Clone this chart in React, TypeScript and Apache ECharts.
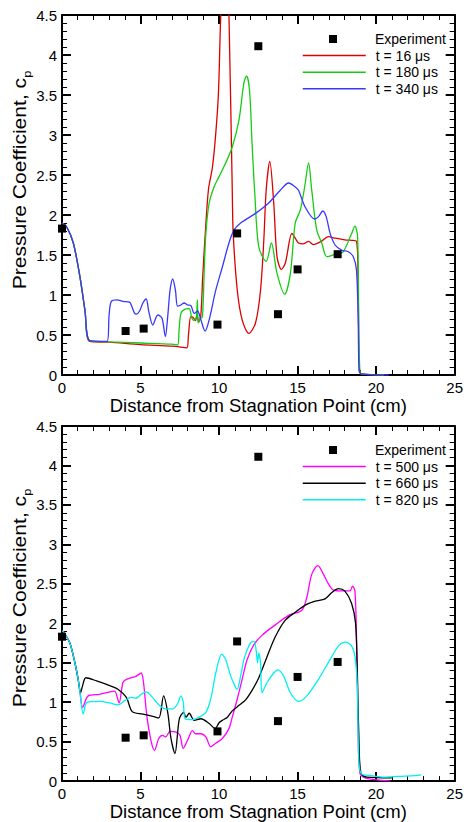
import React, { useEffect, useRef } from 'react';
import * as echarts from 'echarts';

// ---------- data (x in cm, y = Cp) ----------
const experiment: number[][] = [
  [0, 1.83], [4.05, 0.55], [5.2, 0.58], [9.9, 0.63], [11.15, 1.77],
  [12.5, 4.11], [13.75, 0.76], [15, 1.32], [17.55, 1.51],
];

const t16: number[][] = [
  [0, 1.9], [0.3, 1.85], [0.72, 1.65], [1.14, 1.23], [1.46, 0.81], [1.77, 0.42],
  [3, 0.41], [5, 0.38], [7, 0.36], [7.95, 0.34], [8.05, 0.5], [8.2, 0.73], [8.35, 0.72],
  [8.5, 0.68], [8.6, 0.75], [8.7, 0.66], [8.84, 0.75], [8.95, 1.2], [9.1, 1.7], [9.32, 2.31],
  [9.58, 2.6], [9.79, 3.02], [9.96, 3.52], [10.1, 4.44], [10.3, 5.2], [10.5, 5.2], [10.63, 4.5],
  [10.84, 2.31], [10.9, 1.77], [11.16, 1.06], [11.47, 0.69], [11.9, 0.52], [12.32, 0.65],
  [12.64, 1.06], [12.85, 1.69], [13.0, 2.31], [13.23, 2.67], [13.48, 2.15], [13.69, 1.48],
  [13.97, 1.32], [14.22, 1.4], [14.64, 1.77], [14.85, 1.71], [15.06, 1.65], [15.38, 1.64],
  [15.7, 1.67], [16.0, 1.63], [16.5, 1.67], [16.96, 1.73], [17.4, 1.71], [18.0, 1.69],
  [18.75, 1.67], [18.85, 1.2], [18.92, 0.1], [19.0, 0.02], [20.5, 0.0],
];

const t180: number[][] = [
  [0, 1.9], [0.3, 1.85], [0.72, 1.65], [1.14, 1.23], [1.46, 0.81], [1.77, 0.43],
  [3, 0.415], [5, 0.4], [7.0, 0.385], [7.36, 0.375], [7.45, 0.55], [7.57, 0.77], [7.8, 0.82],
  [8.1, 0.83], [8.25, 0.72], [8.4, 0.68], [8.55, 0.72], [8.62, 0.94], [8.67, 0.65], [8.8, 0.7],
  [8.94, 0.73], [9.05, 1.27], [9.16, 1.77], [9.37, 2.15], [9.68, 2.35], [10.0, 2.48],
  [10.42, 2.65], [10.84, 2.85], [11.27, 3.19], [11.58, 3.65], [11.75, 3.74], [11.94, 3.56],
  [12.1, 2.9], [12.28, 2.25], [12.53, 1.6], [13.0, 1.42], [13.33, 1.65], [13.69, 1.27],
  [14.18, 1.01], [14.54, 1.27], [14.85, 1.9], [15.17, 2.06], [15.45, 2.35], [15.7, 2.65],
  [15.9, 2.31], [16.22, 1.81], [16.54, 1.65], [16.86, 1.48], [17.4, 1.51], [17.9, 1.54],
  [18.44, 1.77], [18.65, 1.86], [18.82, 1.73], [18.9, 0.5], [18.97, 0.05], [19.1, 0.01], [20.5, 0.0],
];

const t340: number[][] = [
  [0, 1.9], [0.3, 1.85], [0.72, 1.65], [1.14, 1.23], [1.46, 0.81], [1.77, 0.43],
  [2.87, 0.42], [3.0, 0.75], [3.14, 0.92], [3.5, 0.94], [3.88, 0.92], [4.3, 0.91], [4.41, 0.875],
  [4.6, 0.78], [4.73, 0.76], [4.94, 0.8], [5.15, 0.9], [5.36, 0.95], [5.53, 0.79], [5.78, 0.625],
  [6.1, 0.75], [6.37, 0.71], [6.58, 0.48], [6.73, 0.73], [6.88, 1.06], [7.05, 1.2], [7.22, 1.06],
  [7.36, 0.86], [7.57, 0.875], [7.78, 0.9], [8.0, 0.875], [8.2, 0.87], [8.42, 0.77], [8.63, 0.8],
  [8.84, 0.69], [9.11, 0.55], [9.37, 0.69], [9.79, 1.06], [10.21, 1.35], [10.63, 1.65],
  [10.95, 1.81], [11.37, 1.9], [12.32, 2.02], [13.16, 2.15], [13.9, 2.31], [14.43, 2.4],
  [14.85, 2.35], [15.06, 2.31], [15.48, 2.1], [16.08, 1.95], [16.33, 1.98], [16.6, 2.05],
  [16.82, 1.98], [17.07, 1.77], [17.39, 1.625], [17.8, 1.56], [18.23, 1.54], [18.54, 1.48],
  [18.75, 1.31], [18.86, 0.65], [18.92, 0.05], [19.1, 0.01], [20.8, 0.0],
];

const t500: number[][] = [
  [0, 1.9], [0.1, 1.89], [0.5, 1.75], [0.82, 1.5], [1.03, 1.29], [1.15, 1.12], [1.31, 0.935],
  [1.67, 1.08], [2.4, 1.1], [3.04, 1.13], [3.35, 1.14], [3.63, 0.99], [3.88, 1.25], [4.1, 1.29],
  [4.73, 1.33], [5.04, 1.37], [5.19, 1.25], [5.4, 0.83], [5.68, 0.5], [5.89, 0.39], [6.16, 0.54],
  [6.41, 0.58], [6.6, 0.56], [6.88, 0.63], [7.26, 0.62], [7.51, 0.58], [7.72, 0.415], [8.0, 0.52],
  [8.31, 0.64], [8.5, 0.6], [8.84, 0.6], [9.16, 0.56], [9.47, 0.435], [9.79, 0.48], [10.21, 0.54],
  [10.63, 0.665], [10.84, 0.81], [11.16, 1.04], [11.47, 1.29], [11.79, 1.54], [12.22, 1.73],
  [12.74, 1.85], [13.58, 1.98], [14.43, 2.1], [15.27, 2.165], [15.59, 2.33], [15.9, 2.62],
  [16.29, 2.73], [16.65, 2.62], [16.96, 2.5], [17.28, 2.42], [17.8, 2.41], [18.33, 2.41],
  [18.5, 2.47], [18.65, 2.41], [18.75, 1.83], [18.86, 0.58], [18.97, 0.1], [19.28, 0.04], [20.9, 0.0],
];

const t660: number[][] = [
  [0, 1.9], [0.1, 1.89], [0.5, 1.75], [0.82, 1.5], [1.03, 1.29], [1.18, 1.12], [1.3, 1.2],
  [1.52, 1.31], [2.2, 1.27], [3.04, 1.21], [3.56, 1.165], [4.1, 1.06], [4.47, 0.88], [5.15, 0.85],
  [5.78, 0.82], [6.16, 0.8], [6.47, 1.08], [6.73, 0.87], [6.94, 0.54], [7.19, 0.35], [7.47, 0.79],
  [7.74, 0.87], [7.89, 0.81], [8.1, 0.86], [8.42, 0.77], [8.84, 0.79], [9.37, 0.73], [9.75, 0.665],
  [10.0, 0.74], [10.21, 0.77], [10.53, 0.81], [10.84, 0.89], [11.27, 0.96], [11.69, 1.03],
  [12.1, 1.15], [12.53, 1.31], [13.06, 1.58], [13.58, 1.83], [14.22, 2.04], [14.85, 2.14],
  [15.49, 2.23], [16.12, 2.28], [16.75, 2.31], [17.18, 2.39], [17.6, 2.44], [18.0, 2.41],
  [18.44, 2.25], [18.69, 2.0], [18.8, 1.41], [18.9, 0.58], [19.03, 0.1], [19.4, 0.05], [21.0, 0.04],
];

const t820: number[][] = [
  [0, 1.9], [0.1, 1.89], [0.5, 1.75], [0.82, 1.5], [1.03, 1.29], [1.15, 1.12], [1.35, 0.85],
  [1.6, 1.0], [2.4, 1.01], [3.04, 0.99], [3.56, 0.965], [3.99, 1.02], [4.41, 1.06], [4.73, 1.05],
  [5.04, 1.1], [5.36, 1.13], [5.68, 1.08], [6.1, 0.98], [6.6, 0.915], [7.04, 0.915], [7.36, 0.98],
  [7.57, 1.08], [7.72, 1.0], [7.85, 0.79], [8.31, 0.78], [8.73, 0.81], [9.16, 0.87], [9.47, 1.04],
  [9.79, 1.37], [10.17, 1.61], [10.42, 1.54], [10.74, 1.33], [11.06, 1.185], [11.16, 1.165],
  [11.37, 1.33], [11.58, 1.54], [11.79, 1.66], [12.0, 1.75], [12.22, 1.77], [12.36, 1.66],
  [12.45, 1.5], [12.53, 1.62], [12.64, 1.5], [12.74, 1.12], [13.06, 1.25], [13.48, 1.37],
  [13.75, 1.41], [14.11, 1.33], [14.54, 1.12], [15.06, 1.01], [15.59, 1.08], [16.33, 1.29],
  [17.07, 1.54], [17.6, 1.71], [18.06, 1.76], [18.44, 1.71], [18.65, 1.58], [18.8, 1.21],
  [18.9, 0.25], [19.07, 0.09], [19.7, 0.07], [20.52, 0.05], [21.4, 0.06], [22.5, 0.07], [22.87, 0.08],
];

const topLines = [
  { name: 't = 16 \u03bcs', data: t16, color: '#dd0000' },
  { name: 't = 180 \u03bcs', data: t180, color: '#14cc14' },
  { name: 't = 340 \u03bcs', data: t340, color: '#3838ff' },
];
const bottomLines = [
  { name: 't = 500 \u03bcs', data: t500, color: '#ff00ff' },
  { name: 't = 660 \u03bcs', data: t660, color: '#000000' },
  { name: 't = 820 \u03bcs', data: t820, color: '#00f0f0' },
];

const xTitle = 'Distance from Stagnation Point (cm)';
const yTitle = 'Pressure Coefficient, c';
const expName = 'Experiment';

const FONT = '"Liberation Sans", Arial, Helvetica, sans-serif';

const GRID_LEFT = 62;
const GRID_W = 395;
const GRID_H = 360;
const GRID_TOPS = [15, 426];

function xAxesFor(gridIndex: number) {
  const base: any = {
    type: 'value', gridIndex, min: 0, max: 25, interval: 5,
    axisLine: { show: true, onZero: false, lineStyle: { color: '#000', width: 2 } },
    axisTick: { show: true, inside: true, length: 9, lineStyle: { color: '#000', width: 2 } },
    minorTick: { show: true, splitNumber: 5, length: 5, lineStyle: { color: '#000', width: 1 } },
    splitLine: { show: false },
  };
  return [
    {
      ...base, position: 'bottom',
      axisLabel: { show: true, margin: 5, color: '#000', fontSize: 15, fontFamily: FONT },
      name: xTitle, nameLocation: 'middle', nameGap: 16,
      nameTextStyle: { color: '#000', fontSize: 18.5, fontFamily: FONT },
    },
    { ...base, position: 'top', axisLabel: { show: false } },
  ];
}

function yAxesFor(gridIndex: number) {
  const base: any = {
    type: 'value', gridIndex, min: 0, max: 4.5, interval: 0.5,
    axisLine: { show: true, onZero: false, lineStyle: { color: '#000', width: 2 } },
    axisTick: { show: true, inside: true, length: 9, lineStyle: { color: '#000', width: 2 } },
    minorTick: { show: true, splitNumber: 5, length: 5, lineStyle: { color: '#000', width: 1 } },
    splitLine: { show: false },
  };
  return [
    { ...base, position: 'left', axisLabel: { show: true, margin: 5, color: '#000', fontSize: 15, fontFamily: FONT } },
    { ...base, position: 'right', axisLabel: { show: false } },
  ];
}

function App() {
  const ref = useRef<HTMLDivElement>(null);
  useEffect(() => {
    if (!ref.current) return;
    const chart = echarts.init(ref.current, undefined, { renderer: 'svg' });

    const series: any[] = [];
    const groups = [topLines, bottomLines];
    groups.forEach((lines, g) => {
      lines.forEach((l) => {
        series.push({
          type: 'line', name: l.name, data: l.data,
          xAxisIndex: g * 2, yAxisIndex: g * 2,
          symbol: 'none', smooth: 0.3, clip: true,
          lineStyle: { color: l.color, width: 1.3 },
          itemStyle: { color: l.color },
          z: 2,
        });
      });
      series.push({
        type: 'scatter', name: expName, data: experiment,
        xAxisIndex: g * 2, yAxisIndex: g * 2,
        symbol: 'rect', symbolSize: 8,
        itemStyle: { color: '#000', opacity: 1 }, z: 3,
      });
    });

    const legends: any[] = [];
    GRID_TOPS.forEach((top, g) => {
      const expY = top + 24;
      legends.push({
        data: [{ name: expName, icon: 'rect' }],
        left: 329, top: expY - 7, padding: 0,
        itemWidth: 8, itemHeight: 8, selectedMode: false,
        itemStyle: { opacity: 1 },
        textStyle: { color: '#000', fontSize: 14, fontFamily: FONT, lineHeight: 14, padding: [0, 0, 0, 33] },
      });
      legends.push({
        data: groups[g].map((l) => l.name),
        orient: 'vertical', left: 302, top: expY + 16.6 - 7, padding: 0,
        itemWidth: 63, itemHeight: 14, itemGap: 2.6, selectedMode: false,
        itemStyle: { opacity: 0, borderWidth: 0 },
        lineStyle: { width: 1.5 },
        textStyle: { color: '#000', fontSize: 14, fontFamily: FONT, lineHeight: 14, padding: [0, 0, 0, 5] },
      });
    });

    const yLabelCenters = [180, 598];
    const graphic = yLabelCenters.map((cy) => ({
      type: 'text', x: 20, y: cy, rotation: Math.PI / 2, scaleX: 1.17,
      style: {
        text: yTitle + '{s|p}', fill: '#000', fontSize: 18, fontFamily: FONT,
        align: 'center', verticalAlign: 'middle',
        rich: { s: { fontSize: 11, fontFamily: FONT, lineHeight: 11, padding: [14, 0, 0, 0], fill: '#000' } },
      },
    }));

    chart.setOption({
      animation: false,
      backgroundColor: '#fff',
      grid: GRID_TOPS.map((top) => ({ left: GRID_LEFT, top, width: GRID_W, height: GRID_H, containLabel: false })),
      xAxis: [...xAxesFor(0), ...xAxesFor(1)],
      yAxis: [...yAxesFor(0), ...yAxesFor(1)],
      legend: legends,
      graphic,
      series,
    });
    return () => chart.dispose();
  }, []);
  return <div ref={ref} style={{ position: 'fixed', left: 0, top: 0, width: 466, height: 822, background: '#fff' }} />;
}

export default App;
